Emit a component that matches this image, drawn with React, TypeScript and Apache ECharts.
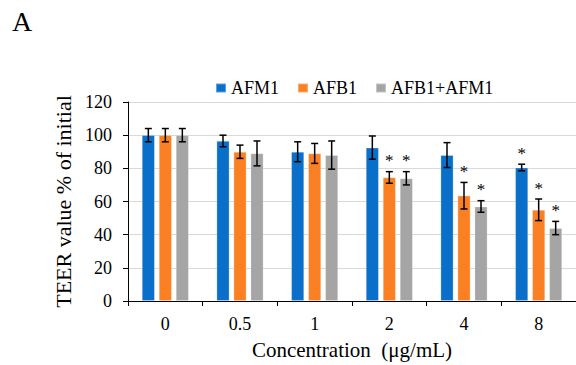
import React, { useEffect, useRef } from "react";
import * as echarts from "echarts";

const categories = ["0", "0.5", "1", "2", "4", "8"];
const seriesNames = ["AFM1", "AFB1", "AFB1+AFM1"];
const afm1 = [100, 96.5, 90, 92.5, 88, 80.5];
const afm1Err = [4, 3.5, 6, 7, 7.5, 2];
const afm1Sig = [0, 0, 0, 0, 0, 1];
const afb1 = [100, 90, 89, 74.5, 63.5, 55];
const afb1Err = [4, 4, 6, 3.5, 8, 6.5];
const afb1Sig = [0, 0, 0, 1, 1, 1];
const combo = [100, 89, 88, 74, 57, 44];
const comboErr = [4, 7.5, 8.5, 4, 3.5, 4];
const comboSig = [0, 0, 0, 1, 1, 1];
const yTicks = { min: 0, max: 120, interval: 20 };

const colors = ["#0A6FC8", "#FB7F23", "#A5A5A5"];
const FONT = "'Liberation Serif', 'Times New Roman', serif";
const BAR_W = 13;
const GAP = 4;

export default function App() {
  const ref = useRef<HTMLDivElement>(null);
  useEffect(() => {
    if (!ref.current) return;
    const chart = echarts.init(ref.current, undefined, { renderer: "svg" });
    const vals = [afm1, afb1, combo];
    const errs = [afm1Err, afb1Err, comboErr];
    const sigs = [afm1Sig, afb1Sig, comboSig];

    const barSeries = vals.map((v, i) => ({
      name: seriesNames[i],
      type: "bar",
      data: v,
      barWidth: BAR_W,
      barGap: (GAP / BAR_W) * 100 + "%",
      itemStyle: { color: colors[i], borderColor: "rgba(255,255,255,0.35)", borderWidth: 0.8 },
      z: 2,
    }));

    const errSeries = vals.map((v, si) => ({
      type: "custom",
      name: "err" + si,
      color: "#000",
      itemStyle: { color: "#000" },
      data: v.map((val, ci) => [ci, val, errs[si][ci], sigs[si][ci]]),
      z: 5,
      renderItem: (params: any, api: any) => {
        const ci = api.value(0);
        const val = api.value(1);
        const e = api.value(2);
        const s = api.value(3);
        const off = (si - 1) * (BAR_W + GAP);
        const c = api.coord([ci, val]);
        const x = c[0] + off;
        const top = api.coord([ci, val + e])[1];
        const bot = api.coord([ci, val - e])[1];
        const cap = 3.5;
        const st = { stroke: "#000", lineWidth: 1.5 };
        const children: any[] = [
          { type: "line", shape: { x1: x, y1: top, x2: x, y2: bot }, style: st },
          { type: "line", shape: { x1: x - cap, y1: top, x2: x + cap, y2: top }, style: st },
          { type: "line", shape: { x1: x - cap, y1: bot, x2: x + cap, y2: bot }, style: st },
        ];
        if (s) {
          children.push({
            type: "text",
            style: {
              text: "*",
              x: x,
              y: top - 11,
              align: "center",
              verticalAlign: "middle",
              font: "17px " + FONT,
              fill: "#000",
            },
          });
        }
        return { type: "group", children };
      },
    }));

    chart.setOption({
      animation: false,
      color: colors,
      grid: { left: 128, top: 102, width: 455, height: 202, containLabel: false },
      legend: {
        data: seriesNames,
        left: 215,
        top: 79,
        padding: 0,
        icon: "rect",
        itemWidth: 10,
        itemHeight: 9,
        itemGap: 18,
        textStyle: { fontFamily: FONT, fontSize: 18, color: "#000" },
      },
      graphic: [
        {
          type: "text",
          left: 12,
          top: 7,
          style: { text: "A", font: "28px " + FONT, fill: "#000" },
        },
      ],
      xAxis: {
        type: "category",
        data: categories,
        boundaryGap: true,
        axisLine: { lineStyle: { color: "#000", width: 1 } },
        axisTick: { show: true, length: 5, lineStyle: { color: "#000" } },
        axisLabel: { fontFamily: FONT, fontSize: 18, color: "#000", margin: 14 },
        name: "Concentration\u00a0 (μg/mL)",
        nameLocation: "middle",
        nameGap: 38,
        nameTextStyle: { fontFamily: FONT, fontSize: 21, color: "#000" },
      },
      yAxis: {
        type: "value",
        min: yTicks.min,
        max: yTicks.max,
        interval: yTicks.interval,
        axisLine: { show: true, lineStyle: { color: "#000", width: 1 } },
        axisTick: { show: true, length: 5, lineStyle: { color: "#000" } },
        axisLabel: { fontFamily: FONT, fontSize: 18, color: "#000", margin: 16 },
        splitLine: { lineStyle: { color: "#D9D9D9", width: 1 } },
        name: "TEER value % of initial",
        nameLocation: "middle",
        nameGap: 47,
        nameTextStyle: { fontFamily: FONT, fontSize: 22, color: "#000" },
      },
      series: [...barSeries, ...errSeries],
    });
    return () => chart.dispose();
  }, []);
  return (
    <div
      ref={ref}
      style={{ position: "absolute", left: 0, top: 0, width: 576, height: 365, background: "#fff" }}
    />
  );
}
